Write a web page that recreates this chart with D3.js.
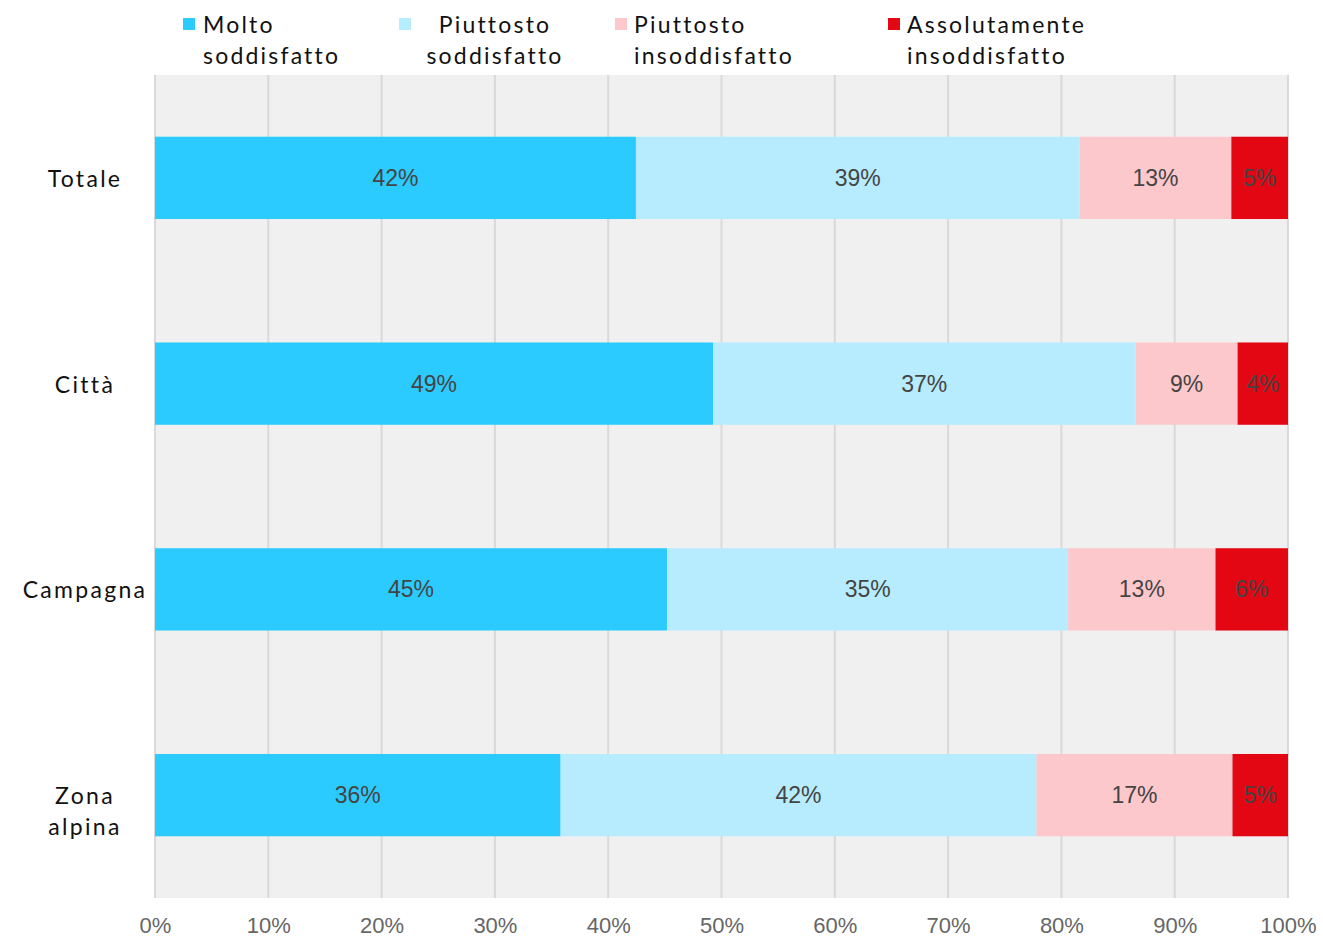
<!DOCTYPE html>
<html><head><meta charset="utf-8">
<script src="https://cdn.jsdelivr.net/npm/d3@7"></script>
<style>body{margin:0;background:#fff}svg{display:block}</style>
</head><body><svg id="c" width="1323" height="937"></svg>
<script>
const categories = ["Totale", "Città", "Campagna", "Zona alpina"];
const seriesNames = ["Molto soddisfatto", "Piuttosto soddisfatto", "Piuttosto insoddisfatto", "Assolutamente insoddisfatto"];
const molto = [42.45, 49.25, 45.2, 35.8];
const piuttostoSodd = [39.15, 37.3, 35.4, 42.0];
const piuttostoInsodd = [13.4, 9.0, 13.0, 17.3];
const assolutamente = [5.0, 4.45, 6.4, 4.9];
const colors = ["#2bcbff", "#b7ecff", "#fdc8cc", "#e30613"];
const tickValues = [0,10,20,30,40,50,60,70,80,90,100];

const svg = d3.select("#c");
const L = 155, R = 1288, T = 75, B = 898;
const x = d3.scaleLinear().domain([0,100]).range([L,R]);
const y = d3.scaleBand().domain(categories).range([T,B]).paddingInner(0.6).paddingOuter(0.3);

svg.append("rect").attr("x",L).attr("y",T).attr("width",R-L).attr("height",B-T).attr("fill","#f0f0f0");
svg.append("g").selectAll("line").data(tickValues).join("line")
  .attr("x1",d=>x(d)).attr("x2",d=>x(d)).attr("y1",T).attr("y2",B)
  .attr("stroke","#d9d9d9").attr("stroke-width",2);

const series = [molto, piuttostoSodd, piuttostoInsodd, assolutamente];
const rows = categories.map((c,i)=>{const o={cat:c}; seriesNames.forEach((s,j)=>o[s]=series[j][i]); return o;});
const stacked = d3.stack().keys(seriesNames)(rows);

stacked.forEach((layer,j)=>{
  const g = svg.append("g");
  g.selectAll("rect").data(layer).join("rect")
    .attr("x",d=>x(d[0])).attr("width",d=>x(d[1])-x(d[0]))
    .attr("y",d=>y(d.data.cat)).attr("height",y.bandwidth())
    .attr("fill",colors[j]);
  g.selectAll("text").data(layer).join("text")
    .attr("x",d=>(x(d[0])+x(d[1]))/2).attr("y",d=>y(d.data.cat)+y.bandwidth()/2)
    .attr("text-anchor","middle").attr("dominant-baseline","central")
    .attr("font-family","'Liberation Sans', Arial, sans-serif").attr("font-size",23)
    .attr("fill","#444").text(d=>Math.round(d[1]-d[0])+"%");
});

// x axis labels
const xa = svg.append("g").attr("transform",`translate(0,${B})`)
  .call(d3.axisBottom(x).tickValues(tickValues).tickSize(0).tickPadding(0).tickFormat(d=>d+"%"));
xa.select(".domain").remove();
xa.selectAll("text").attr("y",27).attr("dy","0.35em")
  .attr("font-family","'Liberation Sans', Arial, sans-serif").attr("font-size",22).attr("fill","#666");

// category labels
const catFont = "Lato, 'Noto Sans', sans-serif";
categories.forEach(c=>{
  const words = c.split(" ");
  const cy = y(c)+y.bandwidth()/2;
  const lh = 31;
  const t = svg.append("text").attr("text-anchor","middle").attr("font-family",catFont)
    .attr("font-size",23).attr("letter-spacing",2.3).attr("fill","#111");
  words.forEach((w,i)=>{
    t.append("tspan").attr("x",85).attr("y",cy + 1 + i*lh).attr("dy","0.35em").text(w);
  });
});

// legend
const legendItems = [
  {sx:183, tx:203, anchor:"start", lines:["Molto","soddisfatto"]},
  {sx:399, tx:495, anchor:"middle", lines:["Piuttosto","soddisfatto"]},
  {sx:615, tx:634, anchor:"start", lines:["Piuttosto","insoddisfatto"]},
  {sx:888, tx:907, anchor:"start", lines:["Assolutamente","insoddisfatto"]}
];
legendItems.forEach((it,j)=>{
  svg.append("rect").attr("x",it.sx).attr("y",18).attr("width",12).attr("height",12).attr("fill",colors[j]);
  const t = svg.append("text").attr("text-anchor",it.anchor).attr("font-family",catFont)
    .attr("font-size",23).attr("letter-spacing",2.2).attr("fill","#111");
  it.lines.forEach((ln,i)=>t.append("tspan").attr("x",it.tx).attr("y",25+i*31).attr("dy","0.35em").text(ln));
});
</script></body></html>
